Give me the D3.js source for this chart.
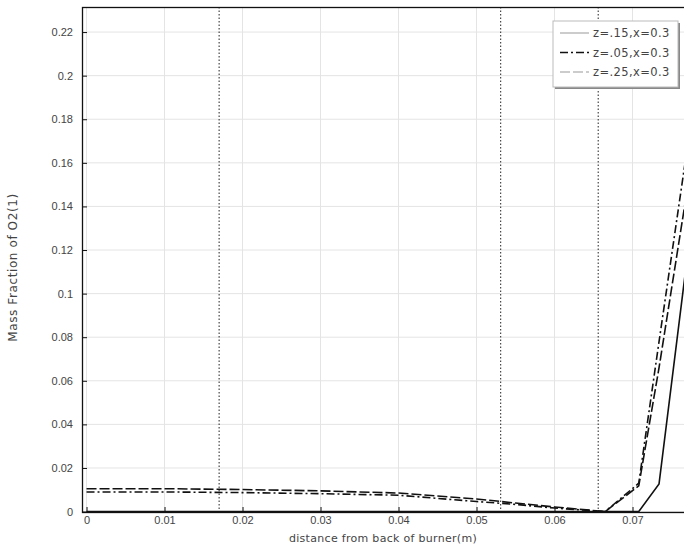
<!DOCTYPE html>
<html>
<head>
<meta charset="utf-8">
<script src="https://cdn.jsdelivr.net/npm/d3@7"></script>
<style>
  html, body { margin: 0; padding: 0; background: #fff; }
  svg { display: block; font-family: "DejaVu Sans", sans-serif; }
</style>
</head>
<body>
<svg id="chart" width="684" height="548"></svg>
<script>
// Oxygen mass fraction along the burner, three z positions at x = 0.3
const distance = [0, 0.01, 0.02, 0.03, 0.04, 0.05, 0.055, 0.06, 0.0665, 0.0708, 0.0734, 0.078];
const seriesNames = ["z=.15,x=0.3", "z=.05,x=0.3", "z=.25,x=0.3"];
const z15 = [0, 0, 0, 0, 0, 0, 0, 0, 0, 0, 0.0127, 0.145];
const z05 = [0.0090, 0.0090, 0.0087, 0.0082, 0.0075, 0.0046, 0.0033, 0.0016, 0, 0.0130, 0.078, 0.191];
const z25 = [0.0105, 0.0105, 0.0101, 0.0095, 0.0085, 0.0058, 0.0039, 0.0021, 0, 0.0118, 0.066, 0.170];
const markers = [0.0170, 0.0531, 0.0656];
const xTicks = [0, 0.01, 0.02, 0.03, 0.04, 0.05, 0.06, 0.07];
const yTicks = [0, 0.02, 0.04, 0.06, 0.08, 0.1, 0.12, 0.14, 0.16, 0.18, 0.2, 0.22];
const dashes = [null, "8,3,2,3", "10,3"];

const svg = d3.select("#chart");
const W = 684, H = 548;
const m = { left: 82, top: 7, right: 0, bottom: 36 };

const x = d3.scaleLinear().domain([-0.00058, 0.0766]).range([m.left, W - m.right]);
const y = d3.scaleLinear().domain([-0.0002, 0.2315]).range([H - m.bottom, m.top]);

svg.append("defs").append("clipPath").attr("id", "plot")
  .append("rect").attr("x", m.left).attr("y", m.top)
  .attr("width", W - m.left - m.right).attr("height", H - m.top - m.bottom);

// grid
const grid = svg.append("g");
grid.selectAll("line.vx").data(xTicks).join("line")
  .attr("x1", d => x(d)).attr("x2", d => x(d))
  .attr("y1", m.top).attr("y2", H - m.bottom)
  .attr("stroke", "#e4e4e4").attr("stroke-width", 1);
grid.selectAll("line.hy").data(yTicks).join("line")
  .attr("x1", m.left).attr("x2", W)
  .attr("y1", d => y(d)).attr("y2", d => y(d))
  .attr("stroke", "#e4e4e4").attr("stroke-width", 1);

// dotted reference lines
svg.append("g").selectAll("line").data(markers).join("line")
  .attr("x1", d => x(d)).attr("x2", d => x(d))
  .attr("y1", m.top).attr("y2", H - m.bottom)
  .attr("stroke", "#222").attr("stroke-width", 1)
  .attr("stroke-dasharray", "1.5,2");

// series
const allSeries = [z15, z05, z25];
const line = d3.line().x((d, i) => x(distance[i])).y(d => y(d));
const lines = svg.append("g").attr("clip-path", "url(#plot)");
allSeries.forEach((s, k) => {
  lines.append("path").datum(s)
    .attr("d", line)
    .attr("fill", "none")
    .attr("stroke", "#111")
    .attr("stroke-width", 1.6)
    .attr("stroke-dasharray", dashes[k]);
});

// frame
svg.append("rect")
  .attr("x", m.left + 0.5).attr("y", m.top + 0.5)
  .attr("width", W - m.left + 5).attr("height", H - m.top - m.bottom)
  .attr("fill", "none").attr("stroke", "#111").attr("stroke-width", 1.3);

// axes (inward ticks)
const fmt = d => d === 0 ? "0" : d3.format(".2~f")(d);
const xAxis = d3.axisBottom(x).tickValues(xTicks).tickSize(-5).tickPadding(4).tickFormat(fmt);
const gx = svg.append("g").attr("transform", `translate(0,${H - m.bottom})`).call(xAxis);
gx.select(".domain").remove();
gx.selectAll("line").attr("stroke", "#111");
gx.selectAll("text").attr("fill", "#444").style("font-size", "11px");

const yAxis = d3.axisLeft(y).tickValues(yTicks).tickSize(-5).tickPadding(9).tickFormat(fmt);
const gy = svg.append("g").attr("transform", `translate(${m.left},0)`).call(yAxis);
gy.select(".domain").remove();
gy.selectAll("line").attr("stroke", "#111");
gy.selectAll("text").attr("fill", "#444").style("font-size", "11px");

// axis titles
svg.append("text")
  .attr("x", (m.left + W) / 2).attr("y", 542)
  .attr("text-anchor", "middle").attr("fill", "#444").style("font-size", "11px")
  .style("letter-spacing", "0.3px")
  .text("distance from back of burner(m)");
svg.append("text")
  .attr("transform", `translate(17,${(m.top + H - m.bottom) / 2 + 8}) rotate(-90)`)
  .attr("text-anchor", "middle").attr("fill", "#444")
  .style("font-size", "12px").style("letter-spacing", "0.6px")
  .text("Mass Fraction of O2(1)");

// legend
const lg = svg.append("g").attr("transform", "translate(553,21)");
lg.append("rect").attr("x", 2).attr("y", 2).attr("width", 125).attr("height", 66).attr("fill", "#888");
lg.append("rect").attr("x", 0).attr("y", 0).attr("width", 125).attr("height", 66)
  .attr("fill", "#fff").attr("stroke", "#bbb");
seriesNames.forEach((name, k) => {
  const yy = 12 + k * 19.5;
  lg.append("line").attr("x1", 7).attr("x2", 36).attr("y1", yy).attr("y2", yy)
    .attr("stroke", k === 1 ? "#111" : "#999").attr("stroke-width", k === 1 ? 1.6 : 1)
    .attr("stroke-dasharray", dashes[k]);
  lg.append("text").attr("x", 40).attr("y", yy + 4)
    .attr("fill", "#444").style("font-size", "11.5px").style("letter-spacing", "0.4px").text(name);
});
</script>
</body>
</html>
